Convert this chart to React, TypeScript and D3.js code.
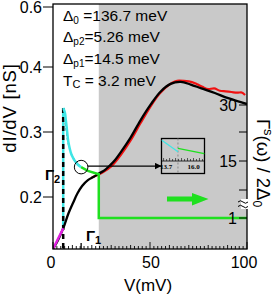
import React from 'react';
import * as d3 from 'd3';

// dI/dV fit (black) and measured data (red), V in mV, G in nS
const blackV = [0, 2.5, 5.3, 8, 10.5, 12.5, 15, 18, 21, 23.6, 26.5, 29.5, 32, 34.7, 39.9, 45.1, 50.3, 55.4, 60.6, 65.8, 71, 76.5, 83.4, 90.3, 100];
const blackG = [0.12, 0.133, 0.152, 0.175, 0.192, 0.205, 0.217, 0.226, 0.231, 0.236, 0.241, 0.249, 0.257, 0.268, 0.291, 0.318, 0.342, 0.362, 0.374, 0.377, 0.373, 0.367, 0.36, 0.352, 0.343];
const redV = [20, 25, 30, 35, 40, 45, 50, 55, 60, 65, 70, 74, 77, 80, 83, 86, 89, 92, 95, 97, 99];
const redG = [0.23, 0.237, 0.247, 0.265, 0.287, 0.313, 0.338, 0.359, 0.373, 0.379, 0.378, 0.374, 0.3695, 0.366, 0.367, 0.3635, 0.3625, 0.3615, 0.3605, 0.361, 0.357];
const cyanV = [5.3, 6.2, 6.6, 7.1, 7.9, 9.6, 12.2, 14.5];
const cyanG = [0.337, 0.329, 0.3185, 0.306, 0.285, 0.2646, 0.2518, 0.246];
const grayV = [5.9, 6.7, 7.7, 9.3, 11.3, 13.9];
const grayG = [0.3215, 0.303, 0.283, 0.268, 0.257, 0.249];
const magentaV = [0, 5.3];
const magentaG = [0.12, 0.152];
// Gamma^s / 2Delta0 step (right axis)
const greenV = [14.5, 18, 23.6, 23.6, 100];
const greenR = [13.5, 12.6, 11.8, 1, 1];

const deltaP2 = 5.26;
const deltaP1 = 14.5;
const shadeFrom = 23.6;

const xTicks = [0, 50, 100];
const yTicks = [0.2, 0.3, 0.4, 0.6];
const yLabels = ['0.2', '0.3', '0.4', '0.6'];
const rTicks = [1, 8, 15, 22.5, 30];
const rLabels: Record<number, string> = { 1: '1', 15: '15', 30: '30' };

// inset (zoom around Delta_p1)
const insetCyanV = [13.35, 14.7];
const insetCyanY = [0.95, 0.62];
const insetGreenV = [14.7, 16.9];
const insetGreenY = [0.72, 0.57];
const insetTicks = ['13.7', '16.0'];

const font = 'Liberation Sans, Arial, sans-serif';

export default function App() {
  const left = 53, right = 247, top = 4, bottom = 249;
  const x = d3.scaleLinear().domain([0, 100]).range([left, right]);
  const y = d3.scaleLinear().domain([0.12, 0.2, 0.3, 0.4, 0.6]).range([bottom, 197, 132, 67, 7]);
  const yR = d3.scaleLinear().domain([1, 8, 15, 22.5, 30]).range([218, 190, 161, 132, 105]);

  const zip = (a: number[], b: number[]) => a.map((v, i) => [v, b[i]] as [number, number]);
  const line = d3.line<[number, number]>().x(d => x(d[0])).y(d => y(d[1]));
  const smooth = d3.line<[number, number]>().x(d => x(d[0])).y(d => y(d[1])).curve(d3.curveMonotoneX);
  const spline = d3.line<[number, number]>().x(d => x(d[0])).y(d => y(d[1])).curve(d3.curveCatmullRom);
  const greenLine = d3.line<[number, number]>().x(d => x(d[0])).y(d => yR(d[1]));

  const minor = d3.range(0, 101, 2);

  // inset geometry
  const ib = { x0: 161.5, y0: 138.5, x1: 204.5, y1: 173.5 };
  const ix = d3.scaleLinear().domain([13.7, 16.0]).range([166, 193.5]);
  const iy = d3.scaleLinear().domain([0, 1]).range([ib.y1, ib.y0]);
  const iline = d3.line<[number, number]>().x(d => ix(d[0])).y(d => iy(d[1]));
  const iAxisY = 161;

  const cx = x(deltaP1), cy = y(0.246);

  return (
    <svg width={277} height={294} style={{ position: 'absolute', left: 0, top: 0, fontFamily: font }}>
      <defs>
        <marker id="ah" viewBox="0 0 10 10" refX="10" refY="5" markerWidth="7" markerHeight="7" orient="auto" markerUnits="userSpaceOnUse">
          <path d="M0,0 L10,5 L0,10 z" fill="#000" />
        </marker>
        <clipPath id="plot"><rect x={left} y={top} width={right - left} height={bottom - top} /></clipPath>
      </defs>
      <rect width={277} height={294} fill="#fff" />
      <rect x={x(shadeFrom)} y={top} width={right - x(shadeFrom)} height={bottom - top} fill="#c9c9c9" />

      <g clipPath="url(#plot)">
        <line x1={x(deltaP2)} x2={x(deltaP2)} y1={y(cyanG[0])} y2={y(0.152)} stroke="#3ee6e6" strokeWidth={2.5} />
        <line x1={x(deltaP2)} x2={x(deltaP2)} y1={y(cyanG[0])} y2={bottom} stroke="#000" strokeWidth={2.5} strokeDasharray="5,4" />
        <path d={smooth(zip(redV, redG)) || ''} fill="none" stroke="#f01010" strokeWidth={2.2} />
        <path d={spline(zip(blackV, blackG)) || ''} fill="none" stroke="#000" strokeWidth={2.3} />
        <path d={line(zip(magentaV, magentaG)) || ''} fill="none" stroke="#e020e0" strokeWidth={2.5} />
        <path d={spline(zip(grayV, grayG)) || ''} fill="none" stroke="#777" strokeWidth={1} strokeDasharray="3,2" />
        <path d={spline(zip(cyanV, cyanG)) || ''} fill="none" stroke="#3ee6e6" strokeWidth={2.5} />
        <path d={greenLine(zip(greenV, greenR)) || ''} fill="none" stroke="#1fe01f" strokeWidth={2.5} />
      </g>

      {/* circle + arrow to inset */}
      <circle cx={cx} cy={cy} r={6.8} fill="none" stroke="#000" strokeWidth={1} />
      <line x1={cx + 6.8} x2={ib.x0} y1={cy - 1} y2={cy - 1} stroke="#000" strokeWidth={1.2} markerEnd="url(#ah)" />

      {/* inset */}
      <rect x={ib.x0} y={ib.y0} width={ib.x1 - ib.x0} height={ib.y1 - ib.y0} fill="#c9c9c9" stroke="#000" strokeWidth={1.3} />
      <line x1={ix(14.7)} x2={ix(14.7)} y1={ib.y0} y2={ib.y1} stroke="#888" strokeWidth={1} strokeDasharray="2,2" />
      <path d={iline(zip(insetCyanV, insetCyanY)) || ''} fill="none" stroke="#3ee6e6" strokeWidth={1.2} />
      <path d={iline(zip(insetGreenV, insetGreenY)) || ''} fill="none" stroke="#1fe01f" strokeWidth={1.2} />
      <line x1={ib.x0} x2={ib.x1} y1={iAxisY} y2={iAxisY} stroke="#000" strokeWidth={0.8} />
      {d3.range(13.5, 17.0, 0.25).filter(v => ix(v) > ib.x0 + 1 && ix(v) < ib.x1 - 1).map((v, i) => (
        <line key={i} x1={ix(v)} x2={ix(v)} y1={iAxisY} y2={iAxisY - (i % 2 === 0 ? 3 : 2)} stroke="#000" strokeWidth={0.6} />
      ))}
      {insetTicks.map(t => (
        <text key={t} x={ix(+t)} y={iAxisY + 8} fontSize={7} fontFamily="Liberation Serif, serif" fontWeight="bold" textAnchor="middle">{t}</text>
      ))}

      {/* green fat arrow */}
      <path d={`M167,196.5 L192,196.5 L192,193 L208.5,199 L192,205.5 L192,201.5 L167,201.5 Z`} fill="#1fe01f" />

      {/* frame */}
      <rect x={left} y={top} width={right - left} height={bottom - top} fill="none" stroke="#000" strokeWidth={1.3} />

      {/* bottom ticks */}
      {minor.map(v => (
        <line key={v} x1={x(v)} x2={x(v)} y1={bottom} y2={bottom - (v % 50 === 0 ? 7 : v % 10 === 0 ? 4 : 3)} stroke="#000" strokeWidth={0.9} />
      ))}
      {[deltaP2, deltaP1].map(v => (
        <line key={v} x1={x(v)} x2={x(v)} y1={bottom} y2={bottom - 6} stroke="#000" strokeWidth={1.3} />
      ))}
      {xTicks.map(v => (
        <text key={v} x={x(v) + (v === 0 ? -2 : v === 100 ? -3 : 1)} y={268} fontSize={16} textAnchor="middle">{v}</text>
      ))}
      <text x={148} y={291} fontSize={17} textAnchor="middle">V(mV)</text>

      {/* left ticks */}
      {yTicks.map((v, i) => (
        <g key={v}>
          <line x1={left - 10} x2={left} y1={y(v)} y2={y(v)} stroke="#000" strokeWidth={1} />
          <text x={42} y={y(v) + 5.5} fontSize={16} textAnchor="end">{yLabels[i]}</text>
        </g>
      ))}
      <text transform="translate(16,108) rotate(-90)" fontSize={18.5} letterSpacing={0.8} textAnchor="middle">dI/dV [nS]</text>

      {/* right axis */}
      {rTicks.map(v => (
        <g key={v}>
          <line x1={right - 8} x2={right} y1={yR(v)} y2={yR(v)} stroke="#000" strokeWidth={1} />
          {rLabels[v] && <text x={right - 10} y={yR(v) + 6} fontSize={16} textAnchor="end">{rLabels[v]}</text>}
        </g>
      ))}
      <rect x={right - 6} y={199} width={10} height={10} fill="#fff" />
      <path d="M238,202 q2.5,-2.5 5,0 t5,0 M238,206.5 q2.5,-2.5 5,0 t5,0" fill="none" stroke="#000" strokeWidth={1} />
      <text transform="translate(257,163) rotate(90)" fontSize={18.5} textAnchor="middle">
        Γ<tspan dy={-7} fontSize={13}>s</tspan><tspan dy={7}>(ω) / 2Δ</tspan><tspan dy={4} fontSize={12}>0</tspan>
      </text>

      {/* parameter text */}
      <g fontSize={15.5}>
        <text x={63} y={21}>Δ<tspan dy={3} fontSize={10}>0</tspan><tspan dy={-3}> =136.7 meV</tspan></text>
        <text x={63} y={42}>Δ<tspan dy={3} fontSize={10}>p2</tspan><tspan dy={-3}>=5.26 meV</tspan></text>
        <text x={63} y={64}>Δ<tspan dy={3} fontSize={10}>p1</tspan><tspan dy={-3}>=14.5 meV</tspan></text>
        <text x={63} y={86}>T<tspan dy={2} fontSize={11}>C</tspan><tspan dy={-2}> = 3.2 meV</tspan></text>
      </g>

      {/* gamma labels */}
      <text x={45} y={180} fontSize={15} fontWeight="bold">Γ<tspan dy={3} fontSize={11}>2</tspan></text>
      <text x={86} y={241} fontSize={15} fontWeight="bold">Γ<tspan dy={3} fontSize={11}>1</tspan></text>
    </svg>
  );
}
